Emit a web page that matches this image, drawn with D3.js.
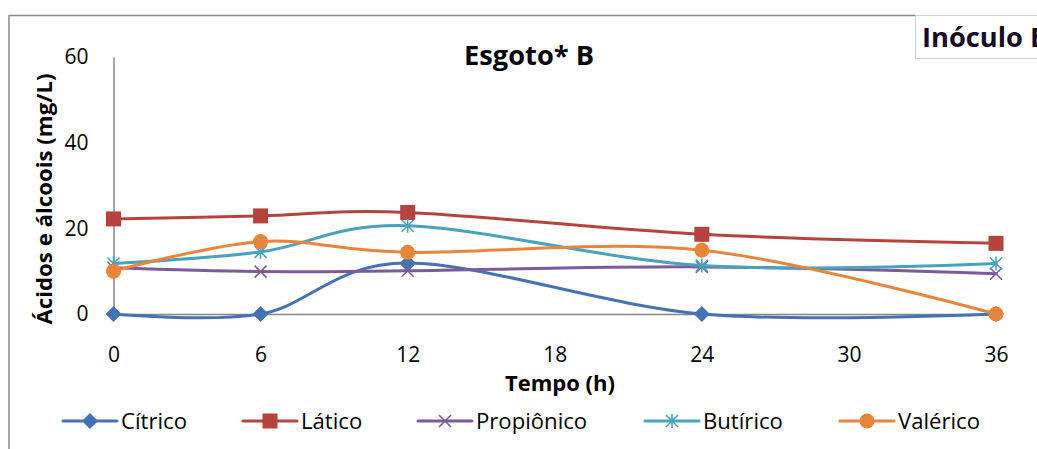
<!DOCTYPE html>
<html>
<head>
<meta charset="utf-8">
<script src="https://cdn.jsdelivr.net/npm/d3@7"></script>
<style>
  html, body { margin: 0; padding: 0; background: #fff; overflow: hidden; }
  svg { display: block; }
  text { font-family: "Open Sans", Lato, "DejaVu Sans", sans-serif; fill: #000; }
</style>
</head>
<body>
<svg id="chart" width="1037" height="449"></svg>
<script>
// Sampling times (h)
const tempo = [0, 6, 12, 24, 36];
const xTicks = [0, 6, 12, 18, 24, 30, 36];
const yTicks = [0, 20, 40, 60];

// Concentrations (mg/L) per compound
const citrico    = [0, 0, 11.9, 0, 0];
const latico     = [22.2, 22.9, 23.7, 18.6, 16.5];
const propionico = [10.8, 9.9, 10.1, 11.0, 9.4];
const butirico   = [11.8, 14.5, 20.6, 11.3, 11.8];
const valerico   = [10.0, 16.9, 14.4, 14.9, 0];

const seriesNames  = ["Cítrico", "Lático", "Propiônico", "Butírico", "Valérico"];
const seriesValues = [citrico, latico, propionico, butirico, valerico];
const seriesColors = ["#4472b4", "#b5443f", "#7b5b9c", "#4aa3bd", "#e8853a"];
const seriesMarks  = ["diamond", "square", "x", "asterisk", "circle"];

const svg = d3.select("#chart");

// Scale a text element's font so its rendered width equals `width`
function fitWidth(sel, width) {
  const node = sel.node();
  const fs = parseFloat(sel.attr("font-size"));
  const w = node.getComputedTextLength();
  if (w > 0) sel.attr("font-size", (fs * width / w).toFixed(2));
  return sel;
}

// Outer frame (top and left edges of the chart area)
svg.append("path")
  .attr("d", "M9,449 V15.5 H915")
  .attr("fill", "none").attr("stroke", "#8a8a8a").attr("stroke-width", 1.5);

const x = d3.scaleLinear().domain([0, 36]).range([113.5, 996]);
const y = d3.scaleLinear().domain([0, 60]).range([314, 57]);

// Axes
const yAxis = svg.append("g").attr("transform", `translate(${x(0)},0)`)
  .call(d3.axisLeft(y).tickValues(yTicks).tickSize(0).tickPadding(25));
const xAxis = svg.append("g").attr("transform", `translate(0,${y(0)})`)
  .call(d3.axisBottom(x).tickValues(xTicks).tickSize(0).tickPadding(33));
[yAxis, xAxis].forEach(a => {
  a.select(".domain").attr("stroke", "#868686").attr("stroke-width", 1.5);
  a.selectAll("text").attr("font-size", 21).attr("fill", "#000")
    .attr("font-family", "'Open Sans', Lato, sans-serif");
});

// Titles
fitWidth(svg.append("text").attr("x", 529).attr("y", 65).attr("text-anchor", "middle")
  .attr("font-size", 24).attr("font-weight", "bold").text("Esgoto* B"), 130);
fitWidth(svg.append("text").attr("x", 560).attr("y", 391).attr("text-anchor", "middle")
  .attr("font-size", 20).attr("font-weight", "bold").text("Tempo (h)"), 110);
fitWidth(svg.append("text")
  .attr("transform", "translate(52,199) rotate(-90)")
  .attr("text-anchor", "middle")
  .attr("font-size", 20).attr("font-weight", "bold").text("Ácidos e álcoois (mg/L)"), 251);

// Smoothed series lines
const line = d3.line()
  .x((d, i) => x(tempo[i]))
  .y(d => y(d))
  .curve(d3.curveCatmullRom.alpha(0));

function drawMarker(g, kind, cx, cy, color) {
  if (kind === "diamond") {
    g.append("path").attr("d", `M${cx},${cy-8} L${cx+8},${cy} L${cx},${cy+8} L${cx-8},${cy} Z`)
      .attr("fill", color);
  } else if (kind === "square") {
    g.append("rect").attr("x", cx - 7.5).attr("y", cy - 7.5).attr("width", 15).attr("height", 15)
      .attr("fill", color);
  } else if (kind === "circle") {
    g.append("circle").attr("cx", cx).attr("cy", cy).attr("r", 7.5).attr("fill", color);
  } else if (kind === "x") {
    g.append("path").attr("d", `M${cx-6},${cy-6} L${cx+6},${cy+6} M${cx-6},${cy+6} L${cx+6},${cy-6}`)
      .attr("stroke", color).attr("stroke-width", 1.6);
  } else if (kind === "asterisk") {
    g.append("path").attr("d",
      `M${cx-6},${cy-6} L${cx+6},${cy+6} M${cx-6},${cy+6} L${cx+6},${cy-6} M${cx},${cy-7} L${cx},${cy+7}`)
      .attr("stroke", color).attr("stroke-width", 1.6);
  }
}

seriesValues.forEach((vals, s) => {
  const g = svg.append("g");
  g.append("path").attr("d", line(vals))
    .attr("fill", "none").attr("stroke", seriesColors[s]).attr("stroke-width", 3)
    .attr("stroke-linecap", "round");
  vals.forEach((v, i) => drawMarker(g, seriesMarks[s], x(tempo[i]), y(v), seriesColors[s]));
});

// Legend
const legendX = [63, 243, 418, 645, 840];
const legend = svg.append("g");
const legendTexts = [];
seriesNames.forEach((name, s) => {
  const lx = legendX[s], ly = 421;
  legend.append("line").attr("x1", lx).attr("x2", lx + 54).attr("y1", ly).attr("y2", ly)
    .attr("stroke", seriesColors[s]).attr("stroke-width", 3).attr("stroke-linecap", "round");
  drawMarker(legend, seriesMarks[s], lx + 27, ly, seriesColors[s]);
  legendTexts.push(legend.append("text").attr("x", lx + 58).attr("y", ly + 8)
    .attr("font-size", 21).text(name));
});
fitWidth(legendTexts[0], 66);
legendTexts.forEach(t => t.attr("font-size", legendTexts[0].attr("font-size")));

// Side label box
svg.append("rect").attr("x", 915.5).attr("y", 15.5).attr("width", 140).attr("height", 43)
  .attr("fill", "#fff").attr("stroke", "#c9d1e3").attr("stroke-width", 1);
const ino = svg.append("text").attr("x", 922).attr("y", 47)
  .attr("font-size", 22).attr("font-weight", "bold").attr("fill", "#160a26")
  .style("fill", "#160a26").text("Inóculo");
fitWidth(ino, 101);
ino.text("Inóculo B");
</script>
</body>
</html>
